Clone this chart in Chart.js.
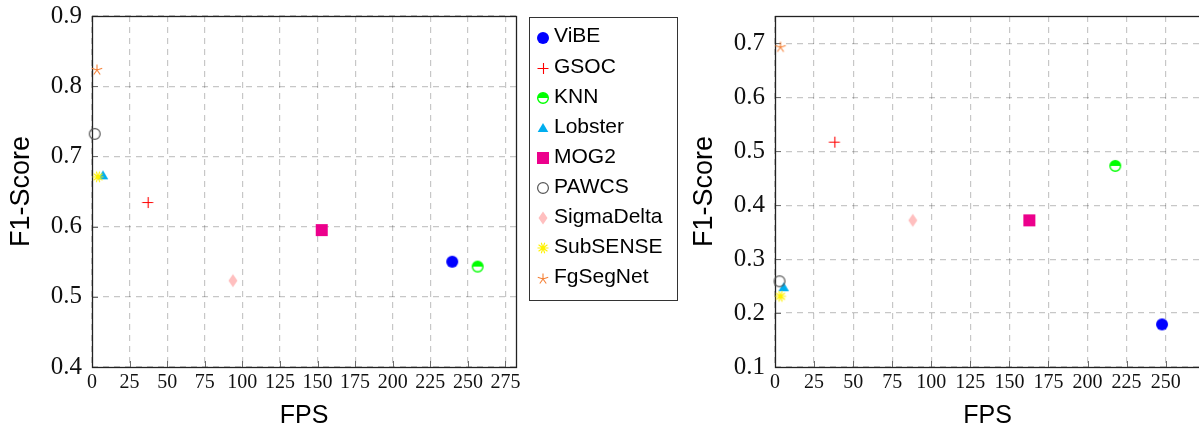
<!DOCTYPE html>
<html>
<head>
<meta charset="utf-8">
<script src="https://cdn.jsdelivr.net/npm/chart.js@4/dist/chart.umd.min.js"></script>
<style>
  html, body { margin: 0; padding: 0; background: #fff; overflow: hidden; width: 1199px; height: 432px; }
  .pane { position: absolute; top: 0; height: 432px; }
  #paneL { left: 0; width: 690px; }
  #paneR { left: 690px; width: 530px; }
</style>
</head>
<body>
<div class="pane" id="paneL"><canvas id="chartL" width="690" height="432"></canvas></div>
<div class="pane" id="paneR"><canvas id="chartR" width="530" height="432"></canvas></div>
<script>
// Methods compared in both panels
const methods = ['ViBE', 'GSOC', 'KNN', 'Lobster', 'MOG2', 'PAWCS', 'SigmaDelta', 'SubSENSE', 'FgSegNet'];

// Left panel: speed (FPS) and F1-Score per method
const fpsLeft = [239.6, 37.0, 256.5, 7.3, 152.8, 1.8, 93.7, 4.0, 3.3];
const f1Left  = [0.550, 0.635, 0.543, 0.673, 0.595, 0.732, 0.523, 0.671, 0.823];

// Right panel: speed (FPS) and F1-Score per method
const fpsRight = [247.7, 38.0, 217.8, 5.6, 162.8, 2.9, 88.2, 3.5, 3.5];
const f1Right  = [0.179, 0.518, 0.473, 0.248, 0.372, 0.259, 0.372, 0.231, 0.693];

// Tick values
const xTicksLeft  = [0, 25, 50, 75, 100, 125, 150, 175, 200, 225, 250, 275];
const yTicksLeft  = [0.4, 0.5, 0.6, 0.7, 0.8, 0.9];
const xTicksRight = [0, 25, 50, 75, 100, 125, 150, 175, 200, 225, 250];
const yTicksRight = [0.1, 0.2, 0.3, 0.4, 0.5, 0.6, 0.7];

// Marker shape and colour for each method
const markKinds  = ['dot', 'plus', 'half', 'triangle', 'square', 'ring', 'diamond', 'sun', 'star'];
const markColors = ['#0000ff', '#ff0000', '#00ff00', '#00aeef', '#ec008c', '#555555', '#ffbfbf', '#fff200', '#f58137'];

function makeMarker(kind, color) {
  const s = 16, c = document.createElement('canvas');
  c.width = s; c.height = s;
  const g = c.getContext('2d');
  const m = s / 2;
  g.fillStyle = color; g.strokeStyle = color;
  switch (kind) {
    case 'dot':
      g.beginPath(); g.arc(m, m, 6, 0, 2 * Math.PI); g.fill(); break;
    case 'plus':
      g.lineWidth = 1.1; g.beginPath();
      g.moveTo(m - 5.5, m + 0.5); g.lineTo(m + 5.5, m + 0.5);
      g.moveTo(m + 0.5, m - 5); g.lineTo(m + 0.5, m + 6);
      g.stroke(); break;
    case 'half':
      g.beginPath(); g.arc(m, m, 5.3, 0, 2 * Math.PI); g.fillStyle = '#fff'; g.fill();
      g.beginPath(); g.arc(m, m, 5.3, Math.PI, 2 * Math.PI); g.closePath(); g.fillStyle = color; g.fill();
      g.beginPath(); g.arc(m, m, 5.3, 0, 2 * Math.PI); g.lineWidth = 1.4; g.stroke(); break;
    case 'triangle':
      g.beginPath(); g.moveTo(m, m - 5); g.lineTo(m + 5.3, m + 4); g.lineTo(m - 5.3, m + 4); g.closePath(); g.fill(); break;
    case 'square':
      g.fillRect(m - 6, m - 6, 12, 12); break;
    case 'ring':
      g.beginPath(); g.arc(m, m, 5.4, 0, 2 * Math.PI); g.lineWidth = 1.2; g.stroke(); break;
    case 'diamond':
      g.beginPath(); g.moveTo(m, m - 6.5); g.lineTo(m + 4.5, m); g.lineTo(m, m + 6.5); g.lineTo(m - 4.5, m); g.closePath(); g.fill(); break;
    case 'sun':
      g.lineWidth = 1.1; g.beginPath();
      for (let k = 0; k < 10; k++) {
        const a = k * Math.PI / 5;
        g.moveTo(m, m); g.lineTo(m + 5.5 * Math.cos(a), m + 5.5 * Math.sin(a));
      }
      g.stroke();
      g.beginPath(); g.arc(m, m, 2, 0, 2 * Math.PI); g.fill(); break;
    case 'star':
      g.lineWidth = 1.1; g.beginPath();
      for (let k = 0; k < 5; k++) {
        const a = -Math.PI / 2 + k * 2 * Math.PI / 5;
        g.moveTo(m, m); g.lineTo(m + 5.5 * Math.cos(a), m + 5.5 * Math.sin(a));
      }
      g.stroke(); break;
  }
  return c;
}
const markers = markKinds.map((k, i) => makeMarker(k, markColors[i]));

function buildDatasets(xs, ys) {
  return methods.map((name, i) => ({
    label: name,
    data: [{ x: xs[i], y: ys[i] }],
    pointStyle: markers[i],
    pointRadius: 6,
    pointBorderWidth: 0,
    backgroundColor: markColors[i],
    borderColor: markColors[i],
    clip: false,
    order: -i
  }));
}

const SANS = '"Liberation Sans", Arial, sans-serif';
const SERIF = '"Liberation Serif", "Times New Roman", serif';

// Plot box plus short inward ticks on the left and bottom axes
const framePlugin = {
  id: 'frame',
  beforeDatasetsDraw(chart) {
    const { ctx, chartArea: a, scales } = chart;
    ctx.save();
    ctx.strokeStyle = '#6e6e6e';
    ctx.lineWidth = 1;
    ctx.beginPath();
    scales.x.ticks.forEach(t => {
      const px = Math.round(scales.x.getPixelForValue(t.value)) + 0.5;
      ctx.moveTo(px, a.bottom); ctx.lineTo(px, a.bottom - 6);
    });
    scales.y.ticks.forEach(t => {
      const py = Math.round(scales.y.getPixelForValue(t.value)) + 0.5;
      ctx.moveTo(a.left, py); ctx.lineTo(a.left + 6, py);
    });
    ctx.stroke();
    ctx.strokeStyle = '#222';
    ctx.lineWidth = 1.3;
    ctx.strokeRect(Math.round(a.left) + 0.5, Math.round(a.top) + 0.5,
                   Math.round(a.right - a.left), Math.round(a.bottom - a.top));
    ctx.restore();
  }
};

// Boxed legend listing each method with its marker
const legendBoxPlugin = {
  id: 'legendBox',
  afterDraw(chart) {
    const { ctx } = chart;
    const box = { x: 529.5, y: 17.5, w: 148, h: 283 };
    ctx.save();
    ctx.fillStyle = '#fff';
    ctx.fillRect(box.x, box.y, box.w, box.h);
    ctx.strokeStyle = '#333';
    ctx.lineWidth = 1;
    ctx.strokeRect(box.x, box.y, box.w, box.h);
    ctx.font = '21px ' + SANS;
    ctx.fillStyle = '#000';
    ctx.textBaseline = 'middle';
    ctx.textAlign = 'left';
    chart.data.datasets.forEach((ds, i) => {
      const cy = 37.7 + i * 30.1;
      const img = ds.pointStyle;
      ctx.drawImage(img, 543 - img.width / 2, Math.round(cy) - img.height / 2);
      ctx.fillText(ds.label, 554, cy - 1);
    });
    ctx.restore();
  }
};

function makeOptions(cfg) {
  return {
    responsive: false,
    animation: false,
    devicePixelRatio: 1,
    events: [],
    layout: { padding: { left: 0, top: 16, right: cfg.padRight, bottom: 0 } },
    plugins: { legend: { display: false }, tooltip: { enabled: false } },
    scales: {
      x: {
        type: 'linear',
        min: 0, max: cfg.xMax,
        afterBuildTicks: s => { s.ticks = cfg.xTicks.map(v => ({ value: v })); },
        afterFit: s => { s.height = 432 - 367; s.paddingLeft = 0; s.paddingRight = 0; },
        grid: { color: 'rgba(0,0,0,0.22)', lineWidth: 1.2, drawTicks: false },
        border: { display: false, dash: [6, 5] },
        ticks: {
          padding: 4, autoSkip: false, maxRotation: 0, color: '#111',
          font: { family: SERIF, size: 20 },
          callback: v => String(v)
        },
        title: {
          display: true, text: 'FPS', color: '#000',
          font: { family: SANS, size: 25, lineHeight: 1 },
          padding: { top: 0, bottom: 3 }
        }
      },
      y: {
        type: 'linear',
        min: cfg.yMin, max: cfg.yMax,
        afterBuildTicks: s => { s.ticks = cfg.yTicks.map(v => ({ value: v })); },
        afterFit: s => { s.width = cfg.yWidth; s.paddingTop = 0; s.paddingBottom = 0; },
        grid: { color: 'rgba(0,0,0,0.22)', lineWidth: 1.2, drawTicks: false },
        border: { display: false, dash: [6, 5] },
        ticks: {
          padding: 10, autoSkip: false, color: '#111',
          font: { family: SERIF, size: 25 },
          callback: v => v.toFixed(1)
        },
        title: {
          display: true, text: 'F1-Score', color: '#000',
          font: { family: SANS, size: 27, lineHeight: 1 },
          padding: { top: cfg.titlePad, bottom: 0 }
        }
      }
    }
  };
}

new Chart(document.getElementById('chartL'), {
  type: 'scatter',
  data: { datasets: buildDatasets(fpsLeft, f1Left) },
  options: makeOptions({
    padRight: 690 - 516, xMax: 282, yMin: 0.4, yMax: 0.9,
    xTicks: xTicksLeft, yTicks: yTicksLeft, yWidth: 92, titlePad: 8
  }),
  plugins: [framePlugin, legendBoxPlugin]
});

new Chart(document.getElementById('chartR'), {
  type: 'scatter',
  data: { datasets: buildDatasets(fpsRight, f1Right) },
  options: makeOptions({
    padRight: 530 - 510, xMax: 272, yMin: 0.1, yMax: 0.751,
    xTicks: xTicksRight, yTicks: yTicksRight, yWidth: 85, titlePad: 1
  }),
  plugins: [framePlugin]
});
</script>
</body>
</html>
